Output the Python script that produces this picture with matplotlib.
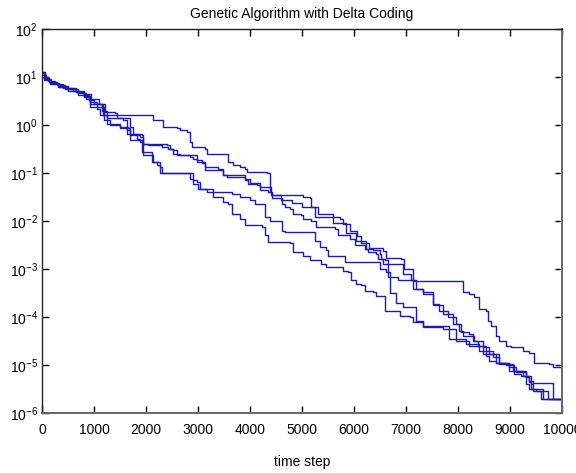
import matplotlib
matplotlib.use('Agg')
import matplotlib.pyplot as plt
from matplotlib.ticker import NullLocator, FixedLocator

# ---- data ----
run1_t = [0, 50, 120, 250, 400, 600, 800, 950, 1100, 1182, 2142, 2334, 2591, 2654, 2783, 2846,
          2878, 3134, 3166, 3581, 3677, 3805, 3901, 3934, 4318, 4381, 4414, 5021, 5149, 5181,
          5245, 5725, 5788, 5916, 6054, 6131, 6284, 6553, 6611, 6899, 6957, 7091, 7130, 8090,
          8219, 8315, 8411, 8539, 8571, 8635, 8731, 8795, 8923, 9019, 9242, 9370, 9466, 9754,
          9818]
run1_v = [12.6, 10.0, 8.3, 7.1, 6.0, 5.2, 4.5, 3.5, 2.8, 1.6, 1.26, 0.91, 0.85, 0.78, 0.72, 0.45,
          0.35, 0.32, 0.25, 0.17, 0.145, 0.135, 0.123, 0.105, 9.8e-2, 4.0e-2, 3.4e-2, 3.2e-2,
          2.95e-2, 1.95e-2, 1.2e-2, 1.12e-2, 8.7e-3, 6.3e-3, 4.8e-3, 3.4e-3, 2.7e-3, 2.35e-3,
          1.66e-3, 1.58e-3, 1.02e-3, 9.8e-4, 5.6e-4, 3.3e-4, 3.0e-4, 2.6e-4, 1.48e-4, 1.35e-4,
          8.3e-5, 6.6e-5, 4.1e-5, 3.1e-5, 2.5e-5, 2.35e-5, 2.0e-5, 1.8e-5, 1.12e-5, 1.05e-5,
          8.9e-6]

run2_t = [0, 70, 180, 320, 480, 700, 850, 927, 1214, 1406, 1439, 1566, 1631, 1662, 1695, 1887,
          1950, 2046, 2303, 2430, 2526, 2591, 2846, 2910, 2974, 3070, 3134, 3390, 3486, 3550,
          3900, 3966, 4126, 4190, 4350, 4414, 4606, 4670, 4766, 4830, 4990, 5021, 5182, 5278,
          5629, 5693, 5917, 6013, 6205, 6268, 6429, 6460, 6588, 6650, 6843, 7196, 7324, 7516,
          7707, 7899, 8027, 8091, 8315, 8379, 8539, 8603, 8731, 8987, 9115, 9306, 9370, 9434,
          9830]
run2_v = [11.2, 8.9, 7.4, 6.3, 5.5, 4.6, 3.5, 2.8, 1.86, 1.74, 1.38, 1.26, 0.91, 0.85, 0.62, 0.56,
          0.41, 0.38, 0.35, 0.32, 0.295, 0.235, 0.214, 0.20, 0.186, 0.17, 0.135, 0.123, 8.9e-2,
          8.3e-2, 7.1e-2, 6.0e-2, 5.5e-2, 4.4e-2, 4.0e-2, 2.95e-2, 2.3e-2, 1.95e-2, 1.82e-2,
          1.41e-2, 1.32e-2, 1.12e-2, 1.02e-2, 7.4e-3, 6.9e-3, 5.0e-3, 4.3e-3, 3.1e-3, 2.6e-3,
          2.24e-3, 2.1e-3, 1.62e-3, 1.51e-3, 6.8e-4, 5.8e-4, 3.9e-4, 3.0e-4, 1.74e-4, 1.15e-4,
          7.2e-5, 5.2e-5, 4.1e-5, 3.2e-5, 2.5e-5, 1.55e-5, 1.23e-5, 1.12e-5, 8.9e-6, 7.1e-6,
          5.5e-6, 4.7e-6, 4.2e-6, 1.95e-6]

run3_t = [0, 40, 150, 300, 450, 650, 800, 927, 1055, 1119, 1247, 1695, 1758, 1919, 1950, 2399,
          2462, 2526, 2654, 2974, 3070, 3134, 3486, 3900, 4000, 4200, 4400, 4600, 4800, 5000,
          5300, 5600, 5850, 6045, 6236, 6364, 6492, 6525, 6555, 6940, 7100, 7132, 7324, 7516,
          7644, 7804, 7964, 8060, 8219, 8283, 8475, 8603, 8731, 8923, 8987, 9242, 9402, 9434,
          9740]
run3_v = [10.0, 8.5, 7.2, 6.3, 5.6, 4.8, 4.0, 2.4, 2.2, 1.6, 1.38, 0.91, 0.66, 0.62, 0.41, 0.38,
          0.32, 0.25, 0.235, 0.17, 0.16, 0.115, 8.9e-2, 7.6e-2, 6.3e-2, 5.0e-2, 3.5e-2, 2.8e-2,
          2.4e-2, 2.0e-2, 1.41e-2, 8.9e-3, 5.6e-3, 3.9e-3, 2.6e-3, 2.45e-3, 2.1e-3, 1.62e-3,
          1.29e-3, 7.9e-4, 5.8e-4, 3.9e-4, 3.3e-4, 1.86e-4, 1.35e-4, 1.0e-4, 7.2e-5, 4.8e-5,
          4.5e-5, 3.2e-5, 2.35e-5, 1.7e-5, 1.12e-5, 9.8e-6, 7.6e-6, 6.0e-6, 4.0e-6, 2.9e-6,
          1.95e-6]

run4_t = [0, 60, 160, 300, 500, 700, 900, 1000, 1150, 1247, 1503, 1631, 1695, 1919, 2111, 2207,
          2270, 2846, 2910, 3006, 3166, 3646, 3805, 3997, 4093, 4286, 4381, 4606, 4670, 5245,
          5341, 5469, 5501, 5821, 6492, 6620, 6700, 6800, 6940, 7196, 7324, 7835, 8156, 8411,
          8667, 8795, 9050, 9306, 9370, 9402, 9640]
run4_v = [12.0, 9.1, 7.6, 6.6, 5.2, 4.3, 3.3, 2.8, 2.0, 1.07, 0.91, 0.66, 0.48, 0.275, 0.17,
          0.145, 9.8e-2, 7.6e-2, 6.0e-2, 4.7e-2, 4.0e-2, 3.7e-2, 3.2e-2, 2.7e-2, 2.3e-2, 1.2e-2,
          1.02e-2, 6.3e-3, 5.9e-3, 3.9e-3, 2.9e-3, 2.45e-3, 1.9e-3, 1.38e-3, 1.0e-3, 8.5e-4,
          3.2e-4, 2.0e-4, 1.58e-4, 8.3e-5, 6.6e-5, 3.5e-5, 2.75e-5, 2.0e-5, 1.45e-5, 1.05e-5,
          7.6e-6, 6.0e-6, 4.4e-6, 3.2e-6, 1.95e-6]

run5_t = [0, 40, 130, 280, 450, 650, 800, 927, 1055, 1200, 1300, 1503, 1631, 1695, 1823, 1887,
          1950, 2142, 2270, 2303, 2910, 2974, 3038, 3294, 3486, 3581, 3646, 3805, 3900, 4222,
          4286, 4350, 4766, 4830, 5021, 5149, 5373, 5469, 5788, 5885, 5949, 6045, 6141, 6205,
          6364, 6429, 6600, 6876, 7068, 7132, 7324, 7707, 7964, 8219, 8475, 8795, 8987, 9083,
          9211, 9307, 9370, 9498, 9600]
run5_v = [13.0, 9.5, 7.9, 6.8, 5.8, 4.8, 3.8, 3.0, 2.4, 1.26, 1.0, 0.85, 0.78, 0.66, 0.52, 0.45,
          0.235, 0.17, 0.135, 9.8e-2, 7.1e-2, 6.5e-2, 4.7e-2, 3.2e-2, 2.45e-2, 2.3e-2, 1.41e-2,
          1.12e-2, 8.1e-3, 7.4e-3, 5.0e-3, 3.6e-3, 3.4e-3, 2.24e-3, 1.9e-3, 1.51e-3, 1.29e-3,
          1.1e-3, 9.3e-4, 8.5e-4, 5.8e-4, 4.9e-4, 4.6e-4, 3.5e-4, 3.3e-4, 2.8e-4, 1.35e-4,
          1.07e-4, 1.0e-4, 7.8e-5, 6.2e-5, 5.6e-5, 3.2e-5, 2.5e-5, 1.7e-5, 1.12e-5, 9.8e-6,
          6.5e-6, 6.0e-6, 4.0e-6, 3.2e-6, 2.9e-6, 1.95e-6]

x_ticks = [0, 1000, 2000, 3000, 4000, 5000, 6000, 7000, 8000, 9000, 10000]
y_ticks = [1e-6, 1e-5, 1e-4, 1e-3, 1e-2, 1e-1, 1e0, 1e1, 1e2]
t_end = 10000

title = 'Genetic Algorithm with Delta Coding'
xlabel = 'time step'

# ---- drawing ----
plt.rcParams['font.family'] = ['Liberation Sans', 'DejaVu Sans']
plt.rcParams['mathtext.fontset'] = 'custom'
plt.rcParams['mathtext.rm'] = 'Liberation Sans'
plt.rcParams['mathtext.it'] = 'Liberation Sans:italic'

fig = plt.figure(figsize=(5.76, 4.73), dpi=100)
ax = fig.add_axes([42 / 576, 60 / 473, 520 / 576, 384 / 473])

line_color = '#1c1cb0'
for t, v in [(run1_t, run1_v), (run2_t, run2_v), (run3_t, run3_v),
             (run4_t, run4_v), (run5_t, run5_v)]:
    ax.step(list(t) + [t_end], list(v) + [v[-1]], where='post',
            color=line_color, lw=1.0)

ax.set_yscale('log')
ax.set_xlim(0, 10000)
ax.set_ylim(1e-6, 1e2)
ax.xaxis.set_major_locator(FixedLocator(x_ticks))
ax.yaxis.set_major_locator(FixedLocator(y_ticks))
ax.xaxis.set_minor_locator(NullLocator())
ax.yaxis.set_minor_locator(NullLocator())
ax.tick_params(which='major', direction='in', length=5, width=1,
               top=True, right=True, labelsize=10, colors='black')
ax.tick_params(axis='x', pad=7)
ax.tick_params(axis='y', pad=3)

for side in ['left', 'top']:
    ax.spines[side].set_color('#222222')
    ax.spines[side].set_linewidth(1.0)
for side in ['right', 'bottom']:
    ax.spines[side].set_color('#666666')
    ax.spines[side].set_linewidth(1.4)

ax.set_title(title, fontsize=10, pad=8)
ax.set_xlabel(xlabel, fontsize=10)
ax.xaxis.set_label_coords(0.5, -0.128)
ax.xaxis.label.set_verticalalignment('center')

fig.savefig('out.png', dpi=100)
